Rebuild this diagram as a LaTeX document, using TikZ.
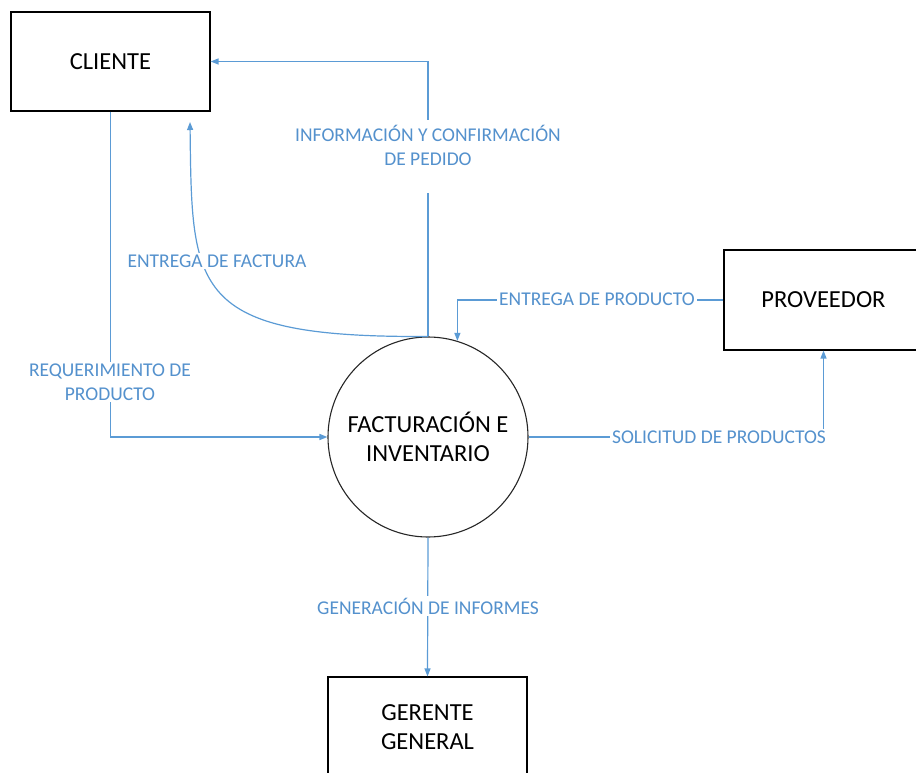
\documentclass[tikz,border=0pt]{standalone}
\usepackage{fontspec}
\setmainfont{Carlito}
\usetikzlibrary{arrows.meta}
\definecolor{flowblue}{RGB}{91,155,213}
\definecolor{lbltext}{RGB}{84,145,205}
\begin{document}
\begin{tikzpicture}[x=1pt,y=-1pt,
  entity/.style={draw=black, line width=1.1pt, minimum width=199pt, minimum height=99pt,
    font=\fontsize{24.5}{29}\selectfont, align=center, inner sep=0pt},
  proc/.style={draw=black!85, line width=1.1pt, circle, minimum size=200pt, inner sep=0pt,
    font=\fontsize{24.5}{29}\selectfont, align=center},
  flow/.style={draw=flowblue, line width=1.2pt},
  arr/.style={-{Triangle[length=8pt,width=6pt]}},
  lbl/.style={fill=white, text=lbltext, font=\fontsize{19.5}{24}\selectfont, align=center, inner sep=2pt}]
\useasboundingbox (0,0) rectangle (916,773);

\node[entity] (cliente) at (110.5,61.5) {CLIENTE};
\node[proc] (fact) at (428,437) {FACTURACIÓN E\\INVENTARIO};
\node[entity, minimum height=100pt] (prov) at (823.5,300) {PROVEEDOR};
\node[entity, minimum height=100pt] (ger) at (427.5,727) {GERENTE\\GENERAL};

\coordinate (infotop) at (428,120);
\coordinate (infobot) at (428,193);
\coordinate (factip) at (190,122);

% Informacion y confirmacion de pedido
\draw[flow] (fact.north) -- (infobot);
\draw[flow,arr] (infotop) |- (cliente.east);
\node[lbl] (lblinfo) at (428,145) {INFORMACIÓN Y CONFIRMACIÓN\\DE PEDIDO};

% Entrega de factura
\draw[flow,arr] (fact.north) .. controls (190,338) and (192,290) .. (factip);
\node[lbl] (lblfact) at (217,261) {ENTREGA DE FACTURA};

% Requerimiento de producto
\draw[flow,arr] (cliente.south) |- (fact.west);
\node[lbl] (lblreq) at (110,382) {REQUERIMIENTO DE\\PRODUCTO};

% Entrega de producto
\draw[flow,arr] (prov.west) -| (fact.73);
\node[lbl] (lblent) at (597,299) {ENTREGA DE PRODUCTO};

% Solicitud de productos
\draw[flow,arr] (fact.east) -| (prov.south);
\node[lbl] (lblsol) at (719,437) {SOLICITUD DE PRODUCTOS};

% Generacion de informes
\draw[flow,arr] (fact.south) -- (ger.north);
\node[lbl] (lblgen) at (428,606) {GENERACIÓN DE INFORMES};
\end{tikzpicture}
\end{document}
